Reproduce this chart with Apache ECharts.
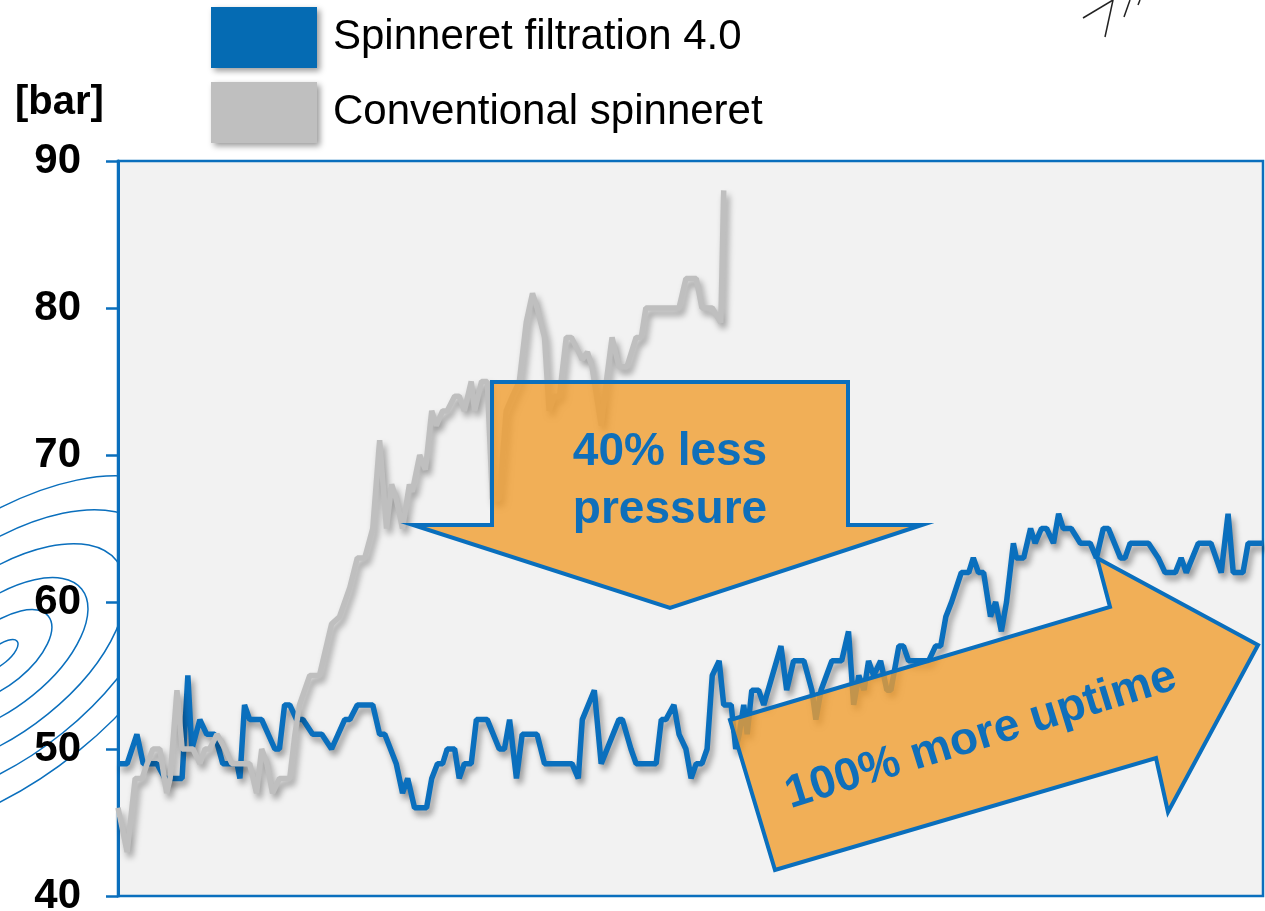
<!DOCTYPE html>
<html>
<head>
<meta charset="utf-8">
<title>Spinneret pressure</title>
<script src="https://cdn.jsdelivr.net/npm/echarts@6/dist/echarts.min.js"></script>
<style>
  html, body { margin: 0; padding: 0; background: #fff; }
  #chart { width: 1265px; height: 911px; }
</style>
</head>
<body>
<div id="chart"></div>
<script>
// time axis is hidden, units are arbitrary (0 - 200)
var blueTime = [
  0, 1.6, 3.3, 4.4, 6.8, 8.2, 11.2, 12.2, 12.9, 14.3,
  15.5, 16.9, 18.3, 20.8, 21.3, 22.1, 23.0, 25.1, 27.4, 28.2,
  29.1, 30.0, 31.2, 32.3, 34.0, 35.6, 37.3, 39.6, 40.5, 41.8,
  44.5, 45.7, 46.6, 48.6, 49.7, 50.6, 51.8, 53.9, 54.8, 55.8,
  56.7, 57.5, 58.8, 59.6, 60.5, 61.7, 62.6, 64.5, 66.6, 67.5,
  68.4, 69.6, 70.6, 73.2, 74.5, 79.3, 80.4, 81.1, 83.2, 84.4,
  87.5, 88.1, 89.6, 90.5, 94.0, 94.9, 95.7, 97.1, 98.0, 99.2,
  100.1, 101.0, 102.0, 102.9, 103.8, 105.0, 105.8, 107.1, 107.9, 108.5,
  109.3, 109.9, 110.7, 111.9, 112.8, 115.8, 116.8, 118.0, 119.8, 121.2,
  121.9, 122.8, 124.7, 126.4, 127.6, 128.5, 129.4, 130.3, 131.1, 132.0,
  133.2, 134.3, 135.0, 136.4, 137.2, 138.1, 141.6, 142.8, 143.7, 144.6,
  145.6, 147.3, 148.6, 149.4, 150.3, 151.2, 152.4, 153.3, 154.3, 155.2,
  156.4, 156.9, 158.2, 159.4, 160.2, 161.3, 162.2, 163.4, 164.3, 165.1,
  166.5, 168.1, 169.8, 170.9, 172.1, 173.0, 175.1, 175.9, 176.8, 180.0,
  181.7, 182.9, 184.7, 185.7, 186.6, 188.7, 190.9, 192.7, 193.9, 194.8,
  196.5, 197.4, 200
];
var bluePressure = [
  49, 49, 51, 49, 49, 48, 48, 55, 50, 52,
  51, 51, 49, 49, 48, 53, 52, 52, 50, 50,
  53, 53, 52, 52, 51, 51, 50, 52, 52, 53,
  53, 51, 51, 49, 47, 48, 46, 46, 48, 49,
  49, 50, 50, 48, 49, 49, 52, 52, 50, 50,
  52, 48, 51, 51, 49, 49, 48, 52, 54, 49,
  52, 52, 50, 49, 49, 52, 52, 53, 51, 50,
  48, 49, 49, 50, 55, 56, 53, 53, 50, 51,
  53, 51, 54, 54, 53, 57, 54, 56, 56, 54,
  52, 54, 56, 56, 58, 53, 55, 54, 56, 55,
  56, 54, 54, 57, 57, 56, 56, 57, 57, 59,
  60, 62, 62, 63, 62, 62, 59, 60, 58, 60,
  64, 63, 63, 65, 64, 65, 65, 64, 66, 65,
  65, 64, 64, 63, 65, 65, 63, 63, 64, 64,
  63, 62, 62, 63, 62, 64, 64, 62, 66, 62,
  62, 64, 64
];
var grayTime = [
  0, 1.6, 3.0, 4.2, 5.1, 6.1, 7.3, 8.5, 9.1, 10.3,
  11.2, 13.1, 14.3, 15.2, 16.0, 17.3, 18.7, 19.9, 23.0, 24.2,
  25.1, 26.0, 27.0, 28.2, 30.0, 30.9, 31.7, 33.5, 35.2, 37.3,
  38.7, 40.5, 41.8, 43.1, 44.5, 45.7, 46.9, 47.8, 48.6, 49.7,
  50.9, 51.4, 52.7, 53.7, 54.8, 55.6, 56.7, 57.5, 58.8, 59.6,
  60.5, 61.7, 62.3, 63.5, 64.5, 65.4, 66.6, 67.8, 68.9, 70.1,
  71.3, 72.4, 73.2, 74.5, 75.3, 76.2, 77.1, 78.3, 79.2, 81.1,
  82.0, 82.8, 84.4, 85.3, 86.3, 87.5, 88.9, 90.5, 91.4, 92.2,
  98.0, 99.2, 101.0, 102.0, 103.8, 105.3, 105.8
];
var grayPressure = [
  46, 43, 48, 48, 49, 50, 50, 47, 48, 54,
  50, 50, 49, 50, 50, 51, 50, 49, 49, 47,
  50, 49, 47, 48, 48, 51, 53, 55, 55, 58.5,
  59, 61, 63, 63, 65, 71, 65, 68, 67, 65,
  68, 67.5, 70, 69, 73, 72, 73, 73, 74, 74,
  73, 75, 73, 75, 75, 67, 67, 73, 74, 75,
  79, 81, 80, 78, 73, 74, 74, 78, 78, 76.5,
  77, 76, 72, 75, 78, 76, 76, 78, 78, 80,
  80, 82, 82, 80, 80, 79, 88
];
var seriesNames = ['Spinneret filtration 4.0', 'Conventional spinneret'];
var yTicks = [40, 50, 60, 70, 80, 90];

function pairs(t, v) {
  return t.map(function (x, i) { return [x, v[i]]; });
}

var FONT = "'Liberation Sans', Arial, sans-serif";
var BLUE = '#0a6fbd';
var GRAY = '#bfbfbf';

var myChart = echarts.init(document.getElementById('chart'));

// hand-drawn doodles in the background of the slide
var doodles = [];
[[22, 9], [62, 30], [105, 52], [150, 76], [195, 100], [240, 124]].forEach(function (r) {
  doodles.push({
    type: 'ellipse',
    x: 0, y: 655,
    rotation: 0.68,
    z: -10,
    shape: { cx: 0, cy: 0, rx: r[0], ry: r[1] },
    style: { fill: 'none', stroke: '#0a6fbd', lineWidth: 1.5 }
  });
});
[[[1083, 18], [1113, 0]], [[1105, 37], [1113, 0]], [[1124, 17], [1130, 0]], [[1138, 5], [1140, 0]]].forEach(function (l) {
  doodles.push({
    type: 'line',
    z: -10,
    shape: { x1: l[0][0], y1: l[0][1], x2: l[1][0], y2: l[1][1] },
    style: { stroke: '#222', lineWidth: 1.5 }
  });
});

var option = {
  backgroundColor: '#fff',
  animation: false,
  textStyle: { fontFamily: FONT },
  legend: {
    orient: 'vertical',
    left: 211,
    top: 7,
    padding: 0,
    itemWidth: 106,
    itemHeight: 61,
    itemGap: 14,
    icon: 'rect',
    selectedMode: false,
    data: [
      { name: seriesNames[0], itemStyle: { color: '#056bb3' } },
      { name: seriesNames[1], itemStyle: { color: GRAY } }
    ],
    itemStyle: {
      borderWidth: 0,
      shadowBlur: 6,
      shadowColor: 'rgba(0,0,0,0.4)',
      shadowOffsetX: 3,
      shadowOffsetY: 3
    },
    textStyle: {
      fontSize: 42,
      color: '#000',
      fontFamily: FONT,
      padding: [0, 0, 0, 11]
    }
  },
  grid: {
    left: 118,
    right: 2,
    top: 161,
    bottom: 15,
    outerBoundsMode: 'none',
    containLabel: false,
    show: true,
    backgroundColor: '#f2f2f2',
    borderColor: '#0a6fbd',
    borderWidth: 2.5
  },
  xAxis: {
    type: 'value',
    min: 0,
    max: 200,
    show: false
  },
  yAxis: {
    type: 'value',
    min: yTicks[0],
    max: yTicks[yTicks.length - 1],
    interval: 10,
    name: '[bar]',
    nameLocation: 'end',
    nameGap: 0,
    nameTextStyle: {
      fontSize: 40,
      fontWeight: 'bold',
      color: '#000',
      fontFamily: FONT,
      align: 'left',
      padding: [0, 0, 38, -103]
    },
    axisLine: { show: true, lineStyle: { color: '#0a6fbd', width: 3 } },
    axisTick: { show: true, inside: false, length: 12, lineStyle: { color: '#0a6fbd', width: 2.5 } },
    axisLabel: {
      margin: 37,
      fontSize: 42,
      fontWeight: 'bold',
      color: '#000',
      fontFamily: FONT
    },
    splitLine: { show: false }
  },
  series: [
    {
      name: seriesNames[0],
      type: 'line',
      symbol: 'none',
      z: 3,
      itemStyle: { color: BLUE },
      lineStyle: {
        width: 5.5,
        color: BLUE,
        shadowColor: 'rgba(0,0,0,0.4)',
        shadowBlur: 6,
        shadowOffsetX: 3,
        shadowOffsetY: 5
      },
      data: pairs(blueTime, bluePressure)
    },
    {
      name: seriesNames[1],
      type: 'line',
      symbol: 'none',
      z: 4,
      itemStyle: { color: GRAY },
      lineStyle: {
        width: 5.5,
        color: GRAY,
        shadowColor: 'rgba(0,0,0,0.35)',
        shadowBlur: 6,
        shadowOffsetX: 3,
        shadowOffsetY: 5
      },
      data: pairs(grayTime, grayPressure)
    }
  ],
  graphic: doodles.concat([
    {
      type: 'polygon',
      z: 100,
      shape: { points: [[492, 382], [848, 382], [848, 525], [922, 525], [670, 608], [413, 525], [492, 525]] },
      style: { fill: 'rgba(240,157,47,0.8)', stroke: '#0a6fbd', lineWidth: 4, lineJoin: 'miter' }
    },
    {
      type: 'text',
      z: 101,
      x: 670, y: 481,
      style: {
        text: '40% less\npressure',
        fill: '#0f6fba',
        font: 'bold 46px ' + FONT,
        align: 'center',
        verticalAlign: 'middle',
        lineHeight: 58
      }
    },
    {
      type: 'polygon',
      z: 100,
      shape: { points: [[730, 720], [1110, 607], [1097, 558], [1258, 645], [1168, 812], [1156, 758], [775, 870]] },
      style: { fill: 'rgba(240,157,47,0.8)', stroke: '#0a6fbd', lineWidth: 4, lineJoin: 'miter' }
    },
    {
      type: 'text',
      z: 101,
      x: 981, y: 736,
      rotation: 0.3,
      style: {
        text: '100% more uptime',
        fill: '#0f6fba',
        font: 'bold 46px ' + FONT,
        align: 'center',
        verticalAlign: 'middle'
      }
    }
  ])
};

myChart.setOption(option);
window.onresize = function () {
  myChart.resize();
};
</script>
</body>
</html>
